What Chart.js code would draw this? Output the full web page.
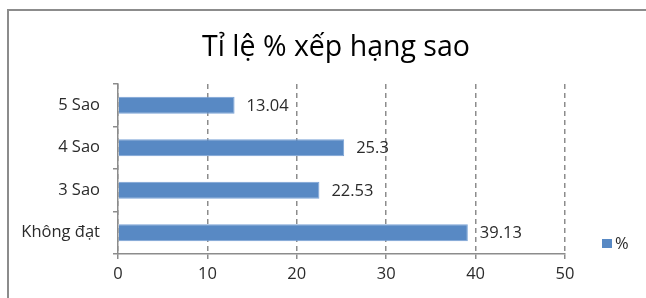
<!DOCTYPE html>
<html>
<head>
<meta charset="utf-8">
<script src="https://cdn.jsdelivr.net/npm/chart.js@4"></script>
<style>
html,body{margin:0;padding:0;background:#fff;overflow:hidden;width:646px;height:298px;}
#frame{position:absolute;left:7px;top:9px;width:700px;height:400px;border:2px solid #8c8c8c;box-sizing:border-box;}
#c{position:absolute;left:0;top:0;}
</style>
</head>
<body>
<div id="frame"></div>
<canvas id="c" width="646" height="298"></canvas>
<script>
const titleText = 'Tỉ lệ % xếp hạng sao';
const categories = ['5 Sao', '4 Sao', '3 Sao', 'Không đạt'];
const seriesName = '%';
const values = [13.04, 25.3, 22.53, 39.13];
const xTicks = [0, 10, 20, 30, 40, 50];

const FONT = "'Open Sans', sans-serif";
const TXT = '#2b2b2b';
const BAR = '#5889c4';
const FS = 16.5;

const decor = {
  id: 'decor',
  afterDraw(chart) {
    const ctx = chart.ctx;
    ctx.save();
    // title
    ctx.fillStyle = '#000';
    ctx.font = "28.5px " + FONT;
    ctx.textAlign = 'center';
    ctx.textBaseline = 'alphabetic';
    ctx.fillText(titleText, 336, 56);
    // data labels
    const meta = chart.getDatasetMeta(0);
    ctx.font = FS + "px " + FONT;
    ctx.fillStyle = TXT;
    ctx.textAlign = 'left';
    ctx.textBaseline = 'middle';
    meta.data.forEach((bar, i) => {
      ctx.fillText(String(values[i]), bar.x + 12, bar.y + 1);
    });
    // legend
    ctx.fillStyle = BAR;
    ctx.fillRect(602, 239, 10, 9);
    ctx.fillStyle = TXT;
    ctx.font = FS + "px " + FONT;
    ctx.textBaseline = 'middle';
    ctx.fillText(seriesName, 615, 244);
    ctx.restore();
  }
};

new Chart(document.getElementById('c'), {
  type: 'bar',
  data: {
    labels: categories,
    datasets: [{
      label: seriesName,
      data: values,
      backgroundColor: BAR,
      borderColor: '#7aa3d6',
      borderWidth: 1,
      categoryPercentage: 1,
      barPercentage: 0.4
    }]
  },
  options: {
    indexAxis: 'y',
    responsive: false,
    animation: false,
    devicePixelRatio: 1,
    layout: { padding: { top: 84, right: 81, left: 0, bottom: 0 } },
    plugins: { legend: { display: false }, title: { display: false }, tooltip: { enabled: false } },
    scales: {
      x: {
        min: 0, max: 50,
        afterBuildTicks(scale) { scale.ticks = xTicks.map(v => ({ value: v })); },
        afterFit(scale) { scale.height = 44; },
        grid: { color: '#8c8c8c', lineWidth: 1.5, drawTicks: true, tickLength: 5, tickColor: '#8c8c8c' },
        border: { display: true, color: '#8c8c8c', width: 1.5, dash: [5, 4] },
        ticks: { color: TXT, font: { family: FONT, size: FS }, padding: 5, maxRotation: 0 }
      },
      y: {
        afterFit(scale) { scale.width = 118; },
        grid: { display: true, offset: true, drawOnChartArea: false, drawTicks: true, tickLength: 5, color: '#8c8c8c', lineWidth: 1.5 },
        border: { display: true, color: '#8c8c8c', width: 1.5 },
        ticks: { color: TXT, font: { family: FONT, size: FS }, padding: 13 }
      }
    }
  },
  plugins: [decor]
});
</script>
</body>
</html>
